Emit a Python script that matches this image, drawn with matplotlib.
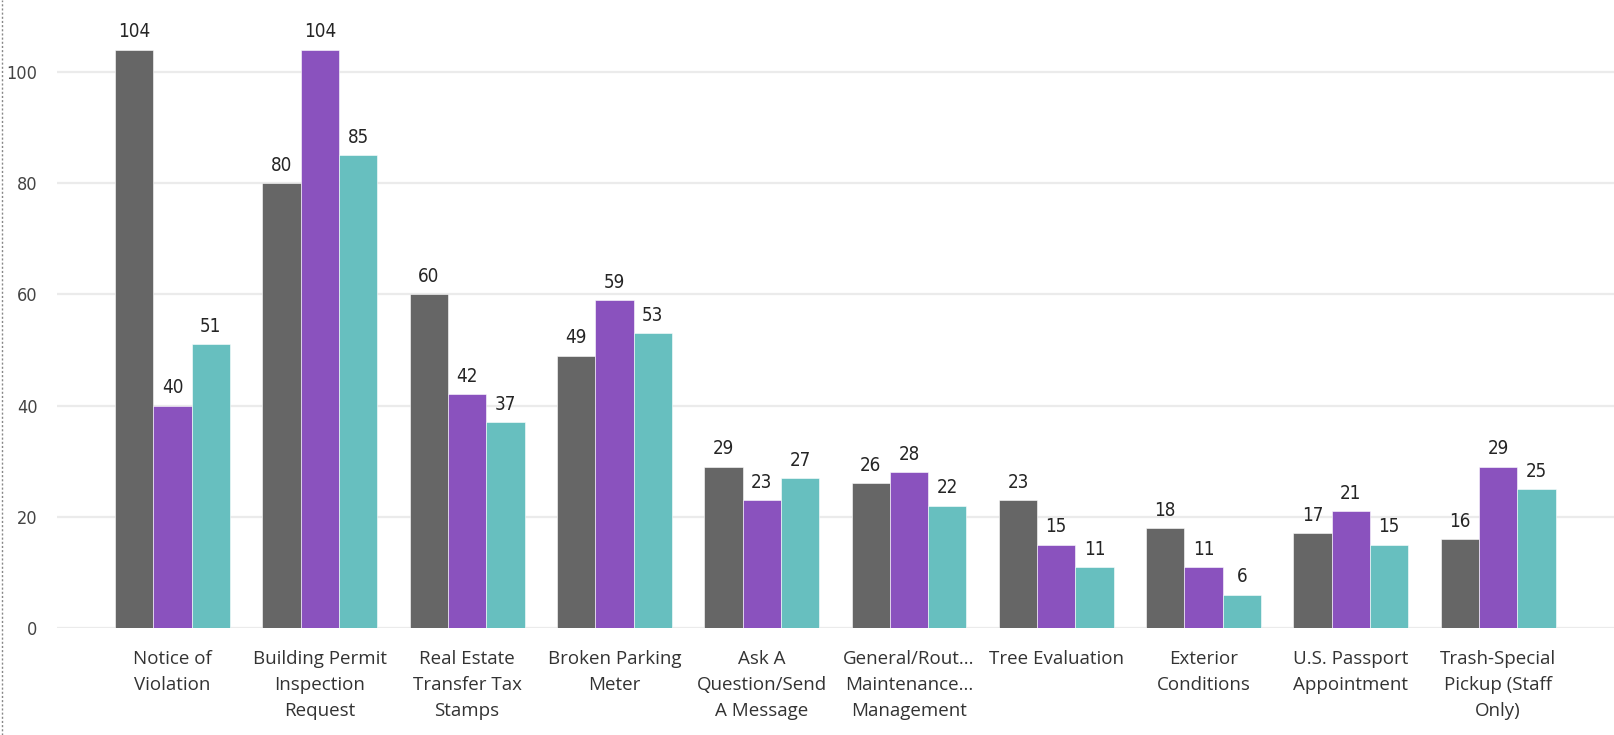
import numpy as np
import matplotlib
matplotlib.use("Agg")
from matplotlib import pyplot as plt
from matplotlib.lines import Line2D

categories = ["Notice of\nViolation", "Building Permit\nInspection\nRequest", "Real Estate\nTransfer Tax\nStamps",
              "Broken Parking\nMeter", "Ask A\nQuestion/Send\nA Message", "General/Rout...\nMaintenance...\nManagement",
              "Tree Evaluation", "Exterior\nConditions", "U.S. Passport\nAppointment", "Trash-Special\nPickup (Staff\nOnly)"]
series_gray = [104, 80, 60, 49, 29, 26, 23, 18, 17, 16]
series_purple = [40, 104, 42, 59, 23, 28, 15, 11, 21, 29]
series_teal = [51, 85, 37, 53, 27, 22, 11, 6, 15, 25]
yticks = [0, 20, 40, 60, 80, 100]

colors = ["#666666", "#8a52be", "#67bfbf"]

fig = plt.figure(figsize=(16.15, 7.35), dpi=100)
# plot area: zero line at y=628px, starts at x=57px
ax = fig.add_axes([57 / 1615, 107 / 735, 1 - 57 / 1615, 628 / 735])

x = np.arange(len(categories))
w = 0.26
for i, (vals, c) in enumerate(zip([series_gray, series_purple, series_teal], colors)):
    bars = ax.bar(x + (i - 1) * w, vals, w, color=c, edgecolor="white", linewidth=0.4, zorder=2)
    for b, v in zip(bars, vals):
        ax.annotate(str(v), (b.get_x() + b.get_width() / 2, v), xytext=(0, 6), textcoords="offset points",
                    ha="center", va="bottom", fontsize=13.5, color="#252525",
                    family="DejaVu Sans", fontstretch="condensed")

ax.set_xlim((57 - 172.5) / 147.3, (1615 - 172.5) / 147.3)
ax.set_ylim(0, 628 / 5.56)
ax.set_yticks(yticks)
ax.set_yticklabels([str(t) for t in yticks], fontsize=13, color="#444444",
                   family="DejaVu Sans", fontstretch="condensed")
ax.set_xticks(x)
ax.set_xticklabels(categories, fontsize=13.5, color="#333333", linespacing=1.55, family="Open Sans")
ax.tick_params(axis="both", length=0)
ax.tick_params(axis="x", pad=16)
ax.tick_params(axis="y", pad=14)
ax.grid(axis="y", color="#ebebeb", linewidth=1.6, zorder=0)
ax.set_axisbelow(True)
for s in ax.spines.values():
    s.set_visible(False)

fig.add_artist(Line2D([2 / 1615, 2 / 1615], [0, 1], transform=fig.transFigure, color="#888888",
                      linestyle=(0, (1.5, 1.5)), linewidth=1))

fig.savefig("out.png", dpi=100)
